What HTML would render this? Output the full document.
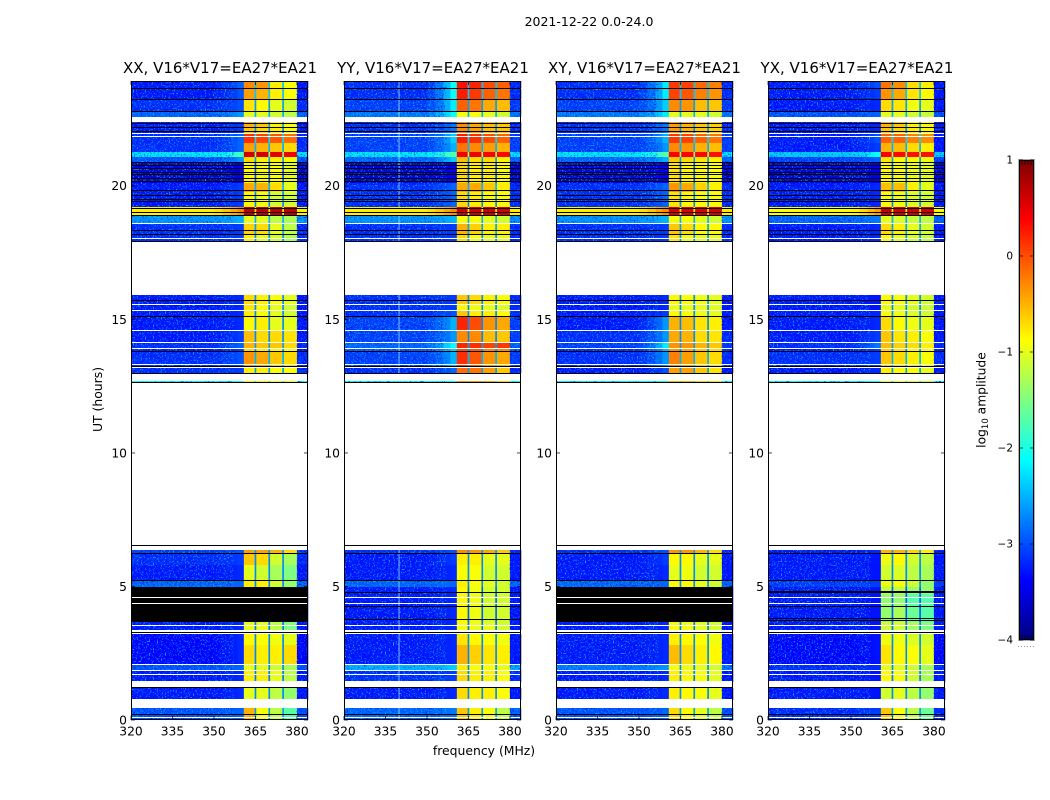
<!DOCTYPE html>
<html>
<head>
<meta charset="utf-8">
<title>2021-12-22 amplitude waterfall</title>
<style>
html,body{margin:0;padding:0;background:#fff;}
svg{display:block;}
text{font-family:"DejaVu Sans","Liberation Sans",sans-serif;fill:#000;}
</style>
</head>
<body>
<svg id="chart" width="1050" height="800" viewBox="0 0 1050 800" xmlns="http://www.w3.org/2000/svg">
  <defs>
    <linearGradient id="cbarGrad" x1="0" y1="1" x2="0" y2="0"></linearGradient>
    <filter id="speckleLight" x="0" y="0" width="100%" height="100%">
      <feTurbulence type="fractalNoise" baseFrequency="0.75" numOctaves="1" seed="4"/>
      <feColorMatrix type="matrix" values="0 0 0 0 0  0 0 0 0 0.56  0 0 0 0 1  9 0 0 0 -5.1"/>
    </filter>
    <filter id="speckleDark" x="0" y="0" width="100%" height="100%">
      <feTurbulence type="fractalNoise" baseFrequency="0.7" numOctaves="1" seed="11"/>
      <feColorMatrix type="matrix" values="0 0 0 0 0  0 0 0 0 0  0 0 0 0 0.78  9 0 0 0 -5"/>
    </filter>
  </defs>
  <rect x="0" y="0" width="1050" height="800" fill="#fff"/>
  <text x="589" y="26" font-size="12.5" text-anchor="middle">2021-12-22 0.0-24.0</text>
  <text x="484" y="755" font-size="12.4" text-anchor="middle">frequency (MHz)</text>
  <text x="102" y="399.5" font-size="12.4" text-anchor="middle" transform="rotate(-90 102 399.5)">UT (hours)</text>
  <g id="panels"></g>
  <g id="colorbar"></g>
  <text x="985.5" y="400" font-size="12.3" text-anchor="middle" transform="rotate(-90 985.5 400)">log<tspan font-size="8.5" dy="2.5">10</tspan><tspan dy="-2.5"> amplitude</tspan></text>
</svg>
<script>
// ---------- data ----------
const panelTitles = ['XX, V16*V17=EA27*EA21','YY, V16*V17=EA27*EA21','XY, V16*V17=EA27*EA21','YX, V16*V17=EA27*EA21'];
const freqTicks = [320,335,350,365,380];
const timeTicks = [0,5,10,15,20];
const colorTicks = [1,0,-1,-2,-3,-4];
const channelEdges = [320,350,353,356,358.5,360.8,364.7,365.3,369.7,370.3,374.7,375.3,380,384];
const channelColumn = [0,1,1,1,1,2,6,3,6,4,6,5,0];
const channelRamp = [0,0.15,0.4,0.7,1,0,0,0,0,0,0,0,0];
const rowStart = [0,0.75,1.42,1.87,2.1,2.81,3.37,3.67,4.27,4.72,4.98,5.21,5.81,6.22,12.66,13,13.22,13.78,13.93,14.16,14.6,15.13,15.36,15.58,17.92,18.2,18.58,18.91,19.21,19.78,20.11,20.86,21.09,21.27,21.61,21.95,22.17,22.6,22.77,23.25,23.67];
const rowEnd = [0.45,1.2,1.87,2.08,2.81,3.22,3.67,4.27,4.72,4.98,5.21,5.81,6.22,6.37,12.71,13.2,13.78,13.93,14.12,14.57,15.09,15.36,15.58,15.92,18.2,18.58,18.91,19.21,19.78,20.11,20.86,21.09,21.27,21.61,21.95,22.17,22.4,22.77,23.22,23.63,23.93];
const notchLevels = [-2.6,-2.7,-2.8,-2.7,-2.7,-2.7,-2.8,-2.9,-2.9,-2.9,-2.7,-2.7,-2.7,-2.6,-2.3,-2.6,-2.5,-2.7,-2.6,-2.7,-2.7,-2.7,-2.7,-2.7,-2.7,-2.6,-2.5,-0.8,-2.7,-2.5,-3,-2.6,-1.4,-2.5,-2.3,-2.7,-2.6,-2.5,-2.6,-2.4,-2.4];
const blackLines = [23.65,23.24,22.77,22.32,22.19,22.04,20.86,20.75,20.64,20.52,20.41,20.26,20.15,19.82,19.63,19.51,19.4,19.14,18.99,18.91,18.88,18.35,18.2,17.92,15.7,15.12,13.81,13.22,12.99,12.65,6.55,6.22,5.21,3.26,1.2,0.19];
const whiteLines = [21.97,21.84,18.58,18.05,15.57,15.34,14.59,14.15,13.91,13.31,4.57,4.38,3.53,2.08,1.85,1.7,1.46,0.75,0.09];
const blackoutXX = [3.67,4.98];
const blackoutXY = [3.67,4.98];
const extraLinesYY = [4.78,4.25,3.78];
const extraLinesYX = [4.82,4.76,4.25,3.8,3.74];
const interferenceMHz = [339.9];
// amplitude rows, log10: [background, ramp, band1, band2, band3, band4]
const ampXX = [[-2.7,-2.6,-.5,-.9,-1.2,-1.7],[-3,-2.9,-1,-1,-1.2,-1.4],[-3,-2.9,-.8,-.8,-1,-1.2],[-2.7,-2.6,-1,-1,-1.1,-1.3],[-3.1,-2.9,-.7,-.8,-.8,-.7],[-3.1,-2.9,-.85,-.9,-.95,-1],[-3,-2.9,-1,-1,-1.2,-1.5],[-3,-3,-1.3,-1.3,-1.6,-1.8],[-3,-3,-1.3,-1.3,-1.6,-1.8],[-3,-3,-1.3,-1.3,-1.6,-1.8],[-2.6,-2.6,-.8,-.8,-1.1,-1.4],[-3,-2.9,-1,-1.1,-1.3,-1.5],[-2.9,-2.8,-.6,-.7,-1.1,-1.3],[-2.8,-2.7,-.4,-.4,-.5,-.7],[-2,-2,-.8,-.8,-1,-1],[-2.9,-2.8,-.8,-.8,-.9,-.9],[-2.9,-2.7,-.35,-.45,-.6,-.7],[-3,-2.8,-.7,-.8,-.85,-.9],[-2.9,-2.6,-.5,-.6,-.6,-.7],[-3,-2.8,-.55,-.7,-.7,-.75],[-3,-2.9,-.85,-.8,-1,-1],[-3,-2.9,-.8,-.9,-1,-1.1],[-3,-2.9,-.75,-.85,-1,-1.1],[-3,-2.9,-.7,-.8,-.9,-1],[-2.9,-2.8,-.8,-1,-1.1,-1.3],[-2.9,-2.8,-.65,-.7,-1,-1.2],[-2.4,-2.3,-1,-1,-1.2,-1.3],[-.8,-.3,.7,.7,.7,.7],[-3,-2.8,-.85,-.95,-1.1,-1.1],[-3,-2.8,-.45,-.5,-.7,-1],[-3.3,-3.2,-.85,-.9,-.9,-1],[-2.7,-2.4,-.7,-.8,-.8,-.9],[-2.1,-1.8,.6,.6,.5,.45],[-2.9,-2.6,-.4,-.5,-.6,-.7],[-2.9,-2.6,.15,.05,-.05,-.15],[-3,-2.8,-.6,-.7,-.8,-.9],[-3,-2.8,-.5,-.6,-.8,-.9],[-2.6,-2.4,-1,-1,-1.1,-1.2],[-2.9,-2.7,-.75,-.85,-1,-1.1],[-3,-2.7,-.4,-.5,-.8,-.9],[-3,-2.6,-.3,-.35,-.8,-.9]];
const ampYY = [[-2.6,-2.5,-.6,-.8,-.9,-1.2],[-3,-2.9,-.7,-.8,-.8,-.9],[-2.9,-2.8,-.7,-.8,-.8,-.9],[-2.3,-2.2,-.8,-.9,-.9,-1],[-3,-2.9,-.5,-.65,-.75,-.8],[-3,-2.9,-.75,-.85,-.9,-.95],[-3,-2.9,-.9,-.95,-1,-1.1],[-3,-2.9,-.85,-.95,-1.1,-1.1],[-3,-2.9,-.85,-.95,-1.1,-1.1],[-3,-2.9,-.85,-.95,-1.1,-1.1],[-2.6,-2.6,-.8,-.9,-1,-1.1],[-3,-2.9,-.9,-.9,-1.1,-1.1],[-3,-2.8,-.8,-.8,-1,-1],[-2.9,-2.7,-.3,-.35,-.45,-.6],[-2,-2,-.3,-.3,-.4,-.6],[-2.9,-2.6,-.15,-.2,-.4,-.6],[-2.8,-2.3,.15,-.05,-.35,-.45],[-2.7,-2.2,0,-.05,-.3,-.3],[-2.6,-2,.2,.15,.05,.1],[-2.8,-2.4,-.3,-.3,-.55,-.6],[-2.8,-2.3,.2,0,-.35,-.45],[-2.9,-2.7,-.6,-.8,-.8,-.9],[-2.9,-2.8,-.85,-.95,-1,-1.05],[-2.9,-2.8,-.6,-.7,-.8,-.9],[-2.9,-2.8,-.7,-.9,-1,-1],[-2.9,-2.8,-.5,-.65,-.8,-.8],[-2.4,-2.3,-.9,-.9,-1,-1.1],[-.8,-.3,.6,.6,.6,.6],[-2.9,-2.6,-.7,-.8,-.85,-.9],[-2.9,-2.6,-.45,-.45,-.6,-.8],[-3.3,-3.1,-.7,-.8,-.8,-.9],[-2.6,-2.2,-.55,-.7,-.7,-.8],[-2.1,-1.7,.45,.45,.4,.35],[-2.8,-2.3,-.2,-.3,-.4,-.5],[-2.8,-2.2,.25,.15,0,-.1],[-2.9,-2.5,-.3,-.4,-.55,-.6],[-2.9,-2.5,-.3,-.45,-.55,-.6],[-2.5,-2,-.9,-.9,-1,-1.1],[-2.8,-2.1,-.1,-.2,-.45,-.55],[-2.9,-2,.25,.1,-.1,-.2],[-2.9,-2,.3,.2,0,-.1]];
const ampXY = [[-2.7,-2.6,-.7,-.85,-1,-1.2],[-3,-2.9,-.8,-.85,-.9,-1],[-3,-2.9,-.8,-.85,-.9,-1],[-2.5,-2.4,-.9,-.95,-1,-1.1],[-3,-2.9,-.55,-.7,-.8,-.85],[-3,-2.9,-.8,-.85,-.9,-.95],[-3,-2.9,-.9,-.95,-1,-1.1],[-3,-3,-1,-1,-1.1,-1.1],[-3,-3,-1,-1,-1.1,-1.1],[-3,-3,-1,-1,-1.1,-1.1],[-2.6,-2.6,-.85,-.9,-1,-1.1],[-3,-2.9,-1,-.95,-1.1,-1.1],[-3,-2.8,-.85,-.85,-1,-1],[-2.9,-2.7,-.35,-.35,-.5,-.7],[-2,-2,-.5,-.5,-.6,-.7],[-3,-2.7,-.4,-.4,-.6,-.75],[-2.9,-2.4,-.25,-.4,-.6,-.7],[-2.9,-2.3,-.35,-.45,-.6,-.7],[-2.8,-2.1,-.35,-.35,-.5,-.6],[-2.9,-2.4,-.45,-.5,-.7,-.75],[-3,-2.4,-.5,-.55,-.75,-.8],[-3,-2.8,-.85,-.9,-.95,-1],[-3,-2.9,-.95,-1,-1,-1.05],[-3,-2.9,-.85,-.9,-.95,-1],[-2.9,-2.8,-.75,-.95,-1,-1],[-2.9,-2.8,-.6,-.7,-.85,-.85],[-2.4,-2.3,-.9,-.9,-1,-1.1],[-.8,-.3,.55,.55,.55,.55],[-2.9,-2.6,-.75,-.85,-.9,-.9],[-2.9,-2.6,-.35,-.45,-.65,-.8],[-3.3,-3.1,-.75,-.85,-.85,-.9],[-2.6,-2.3,-.6,-.7,-.75,-.8],[-2.1,-1.7,.4,.4,.35,.3],[-2.8,-2.4,-.3,-.35,-.5,-.55],[-2.8,-2.3,.1,.05,-.1,-.2],[-2.9,-2.5,-.4,-.5,-.6,-.65],[-2.9,-2.5,-.4,-.5,-.6,-.65],[-2.5,-2.1,-1,-1,-1,-1.1],[-2.8,-2.2,-.3,-.35,-.55,-.6],[-2.9,-2.1,.05,-.05,-.25,-.35],[-2.9,-2.1,.1,.05,-.15,-.25]];
const ampYX = [[-2.9,-2.8,-.6,-.9,-1.2,-1.6],[-3,-3,-1.1,-1,-1.2,-1.4],[-3,-3,-.85,-.9,-1.1,-1.3],[-2.9,-2.9,-1,-1,-1.1,-1.3],[-3.1,-3,-.75,-.85,-.9,-1],[-3.1,-3,-.95,-.95,-1.05,-1.1],[-3,-3,-1.1,-1.1,-1.3,-1.5],[-3,-3,-1.4,-1.3,-1.6,-1.7],[-3,-3,-1.4,-1.4,-1.7,-1.7],[-3,-3,-1.2,-1.2,-1.4,-1.4],[-2.8,-2.8,-.95,-.9,-1.1,-1.4],[-3,-3,-1.1,-1.05,-1.2,-1.3],[-3,-3,-.95,-.85,-1.1,-1.2],[-3,-2.9,-.5,-.5,-.65,-.8],[-2,-2,-1,-1,-1.1,-1.2],[-3,-2.9,-.8,-.85,-.9,-1],[-2.9,-2.8,-.6,-.7,-.8,-.9],[-3,-2.8,-.65,-.75,-.85,-.9],[-2.9,-2.5,-.55,-.65,-.7,-.8],[-3,-2.8,-.6,-.75,-.8,-.9],[-3,-2.9,-.7,-.85,-.95,-1],[-3,-2.9,-.9,-.95,-1.05,-1.1],[-3,-3,-1,-1,-1.1,-1.15],[-3,-3,-.85,-.9,-1,-1.1],[-3,-2.9,-.85,-1,-1.1,-1.2],[-3,-2.9,-.7,-.8,-1,-1.1],[-2.6,-2.5,-1,-1.05,-1.15,-1.2],[-.9,-.4,.65,.6,.6,.6],[-3,-2.9,-.9,-.95,-1.05,-1.1],[-3,-2.9,-.55,-.55,-.8,-1],[-3.3,-3.2,-.85,-.9,-.95,-1],[-2.8,-2.6,-.75,-.85,-.85,-.95],[-2.2,-2,.4,.35,.3,.3],[-3,-2.8,-.5,-.55,-.7,-.8],[-3,-2.7,-.1,-.1,-.25,-.3],[-3,-2.9,-.6,-.7,-.8,-.85],[-3,-2.9,-.5,-.6,-.8,-.85],[-2.7,-2.6,-1,-1,-1.1,-1.15],[-3,-2.9,-.7,-.75,-.95,-1],[-3,-2.8,-.35,-.45,-.75,-.85],[-3,-2.7,-.2,-.3,-.7,-.8]];

// ---------- layout and scales ----------
const NS = 'http://www.w3.org/2000/svg';
const panelAmps = [ampXX, ampYY, ampXY, ampYX];
const panelKeys = ['xx','yy','xy','yx'];
const panelBlackout = [blackoutXX, null, blackoutXY, null];
const panelExtraLines = [[], extraLinesYY, [], extraLinesYX];
const panelInterference = [[], interferenceMHz, [], []];
const panelLefts = [131,344,556,768];
const panelTitleCenters = [220,433,644.5,857];
const PLOT_W = 177, PLOT_TOP = 81, PLOT_BOTTOM = 720;
const F_MIN = 320, F_MAX = 384, T_MIN = 0, T_MAX = 23.93;
const C_MIN = -4, C_MAX = 1, CB_L = 1019, CB_R = 1034, CB_T = 160, CB_B = 640;
const QUIET_SHIFT = 0.28;
function xScale(left, f){ return left + (f - F_MIN) / (F_MAX - F_MIN) * PLOT_W; }
function yScale(h){ return PLOT_BOTTOM - (h - T_MIN) / (T_MAX - T_MIN) * (PLOT_BOTTOM - PLOT_TOP); }
function cScale(v){ return CB_B - (v - C_MIN) / (C_MAX - C_MIN) * (CB_B - CB_T); }
function snap(y){ return Math.round(y - 0.5) + 0.5; }
function clamp01(v){ return Math.max(0, Math.min(1, v)); }
function quietLevel(v){ return v - QUIET_SHIFT * clamp01((-1.8 - v) / 0.7); }
function jet(v){
  const t = clamp01((v - C_MIN) / (C_MAX - C_MIN));
  const r = clamp01(1.5 - Math.abs(4 * t - 3));
  const g = clamp01(1.5 - Math.abs(4 * t - 2));
  const b = clamp01(1.5 - Math.abs(4 * t - 1));
  return 'rgb(' + Math.round(r * 255) + ',' + Math.round(g * 255) + ',' + Math.round(b * 255) + ')';
}
function make(tag, attrs, parent){
  const el = document.createElementNS(NS, tag);
  for (const k in attrs) el.setAttribute(k, attrs[k]);
  parent.appendChild(el);
  return el;
}
const defs = document.querySelector('defs');
const panelsRoot = document.getElementById('panels');

panelTitles.forEach(function(title, p){
  const left = panelLefts[p];
  const right = left + PLOT_W;
  const key = panelKeys[p];
  const amps = panelAmps[p];
  const g = make('g', {}, panelsRoot);
  
  

  // heatmap cells
  rowStart.forEach(function(start, r){
    const yTop = Math.round(yScale(rowEnd[r]));
    const yBot = Math.round(yScale(start));
    channelColumn.forEach(function(col, c){
      const x0 = xScale(left, channelEdges[c]);
      const x1 = xScale(left, channelEdges[c + 1]);
      let v = amps[r][col];
      if (col === 6) v = notchLevels[r];
      if (col === 1) v = amps[r][0] + channelRamp[c] * (amps[r][1] - amps[r][0]);
      if (col === 0 || col === 1) v = quietLevel(v);
      const cell = make('rect', {x:x0, y:yTop, width:x1 - x0 + 0.3, height:Math.max(1, yBot - yTop), fill:jet(v)}, g);
      
      
    });
  });

  // receiver noise texture, clipped to quiet rows only
  const clip = make('clipPath', {id:'rows-' + key}, defs);
  rowStart.forEach(function(start, r){
    if (amps[r][0] > -1.5) return;
    const yT = Math.round(yScale(rowEnd[r]));
    make('rect', {x:left, y:yT, width:PLOT_W, height:Math.max(1, Math.round(yScale(start)) - yT)}, clip);
  });
  const texture = make('g', {'clip-path':'url(#rows-' + key + ')'}, g);
  
  
  const leftW = xScale(left, 357) - left;
  const edgeL = xScale(left, 380);
  make('rect', {x:left, y:PLOT_TOP, width:leftW, height:PLOT_BOTTOM - PLOT_TOP, filter:'url(#speckleDark)', opacity:0.55}, texture);
  make('rect', {x:left, y:PLOT_TOP, width:leftW, height:PLOT_BOTTOM - PLOT_TOP, filter:'url(#speckleLight)', opacity:0.8}, texture);
  make('rect', {x:edgeL, y:PLOT_TOP, width:right - edgeL, height:PLOT_BOTTOM - PLOT_TOP, filter:'url(#speckleDark)', opacity:0.7}, texture);
  make('rect', {x:edgeL, y:PLOT_TOP, width:right - edgeL, height:PLOT_BOTTOM - PLOT_TOP, filter:'url(#speckleLight)', opacity:0.5}, texture);

  // narrow-band interference
  panelInterference[p].forEach(function(f){
    const line = make('line', {x1:xScale(left, f), x2:xScale(left, f), y1:PLOT_TOP, y2:PLOT_BOTTOM, stroke:'#a8f0ff', 'stroke-width':1, opacity:0.75, 'clip-path':'url(#rows-' + key + ')'}, g);
    
    
  });

  // flagged data
  const blackout = panelBlackout[p];
  if (blackout){
    const band = make('rect', {x:left, y:yScale(blackout[1]), width:PLOT_W, height:yScale(blackout[0]) - yScale(blackout[1]), fill:'#000'}, g);
    
    
  }
  blackLines.concat(panelExtraLines[p]).forEach(function(h){
    const y = snap(yScale(h));
    const line = make('line', {x1:left, x2:right, y1:y, y2:y, stroke:'#000', 'stroke-width':1}, g);
    
    
  });
  whiteLines.forEach(function(h){
    const y = snap(yScale(h));
    const line = make('line', {x1:left, x2:right, y1:y, y2:y, stroke:'#fff', 'stroke-width':1}, g);
    
    
  });

  // frame
  const frame = make('rect', {x:left + 0.5, y:PLOT_TOP + 0.5, width:PLOT_W - 1, height:PLOT_BOTTOM - PLOT_TOP - 1, fill:'none', stroke:'#000', 'stroke-width':1}, g);
  
  

  // x ticks
  freqTicks.forEach(function(f){
    const x = xScale(left, f);
    const tb = make('line', {x1:x, x2:x, y1:PLOT_BOTTOM, y2:PLOT_BOTTOM - 4, stroke:'#000', 'stroke-width':0.7}, g);
    
    
    const tt = make('line', {x1:x, x2:x, y1:PLOT_TOP, y2:PLOT_TOP + 4, stroke:'#000', 'stroke-width':0.7}, g);
    
    
    const lab = make('text', {x:x, y:735.5, 'font-size':12.3, 'text-anchor':'middle'}, g);
    lab.textContent = String(f);
    
    
  });

  // y ticks
  timeTicks.forEach(function(h){
    const y = yScale(h);
    const tl = make('line', {x1:left, x2:left + 4, y1:y, y2:y, stroke:'#000', 'stroke-width':0.7}, g);
    
    
    const tr = make('line', {x1:right, x2:right - 4, y1:y, y2:y, stroke:'#000', 'stroke-width':0.7}, g);
    
    
    const lab = make('text', {x:left - 4, y:y + 4.3, 'font-size':12.3, 'text-anchor':'end'}, g);
    lab.textContent = String(h);
    
    
  });

  // title
  const t = make('text', {x:panelTitleCenters[p], y:73, 'font-size':15, 'text-anchor':'middle'}, g);
  t.textContent = title;
  
  
});

// ---------- colorbar ----------
const cbRoot = document.getElementById('colorbar');
const grad = document.getElementById('cbarGrad');
for (let i = 0; i <= 40; i++){
  const v = C_MIN + (C_MAX - C_MIN) * i / 40;
  make('stop', {offset:(i / 40 * 100) + '%', 'stop-color':jet(v)}, grad);
}
const cbFrameOuter = make('rect', {x:CB_L - 0.5, y:CB_T - 0.5, width:CB_R - CB_L + 1, height:CB_B - CB_T + 1, fill:'url(#cbarGrad)', stroke:'#b0b0b0', 'stroke-width':1}, cbRoot);


const cbFrame = make('rect', {x:CB_L + 0.5, y:CB_T + 0.5, width:CB_R - CB_L - 1, height:CB_B - CB_T - 1, fill:'none', stroke:'#000', 'stroke-width':1}, cbRoot);


colorTicks.forEach(function(v){
  const y = cScale(v);
  const a = make('line', {x1:CB_L, x2:CB_L + 4, y1:y, y2:y, stroke:'#000', 'stroke-width':0.7}, cbRoot);
  
  
  const b = make('line', {x1:CB_R, x2:CB_R - 4, y1:y, y2:y, stroke:'#000', 'stroke-width':0.7}, cbRoot);
  
  
  const lab = make('text', {x:CB_L - 6, y:y + 3.5, 'font-size':10.5, 'text-anchor':'end'}, cbRoot);
  lab.textContent = v < 0 ? '\u2212' + Math.abs(v) : String(v);
  
  
});
[1022,1025,1028,1031].forEach(function(x){
  const top = make('line', {x1:x, x2:x, y1:CB_T, y2:CB_T + 5, stroke:'#000', 'stroke-width':0.7}, cbRoot);
  
  
  const bot = make('line', {x1:x, x2:x, y1:CB_B, y2:CB_B - 5, stroke:'#000', 'stroke-width':0.7}, cbRoot);
  
  
});
const dots = make('line', {x1:1018, x2:1035, y1:646.5, y2:646.5, stroke:'#999', 'stroke-width':1, 'stroke-dasharray':'1 2'}, cbRoot);


</script>
</body>
</html>
